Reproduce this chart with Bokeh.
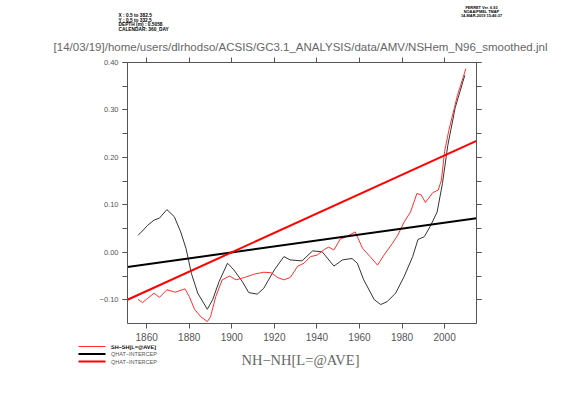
from bokeh.plotting import figure
from bokeh.layouts import column, row
from bokeh.models import (Range1d, LinearAxis, SingleIntervalTicker, FixedTicker,
                          CustomJSTickFormatter)
from bokeh.core.properties import value
from bokeh.embed import file_html
from bokeh.resources import INLINE

# ---- data ----
nh_years = [1856, 1858, 1860.5, 1863.5, 1866, 1869.5, 1873, 1876, 1878.5, 1881,
            1884, 1888.5, 1891, 1894, 1898, 1901, 1905, 1908, 1912, 1915,
            1920, 1924.5, 1927.5, 1933, 1938, 1942.5, 1948, 1952, 1956.5, 1959,
            1962, 1967, 1970, 1973, 1977, 1981, 1985, 1987.5, 1990.5, 1993.5,
            1996.5, 1999, 2001.5, 2005, 2009.5]
nh_vals = [0.036, 0.045, 0.057, 0.068, 0.072, 0.090, 0.075, 0.043, 0.008, -0.044,
           -0.086, -0.120, -0.100, -0.062, -0.023, -0.037, -0.062, -0.085, -0.088, -0.076,
           -0.037, -0.009, -0.016, -0.018, 0.003, 0.001, -0.029, -0.016, -0.013, -0.023,
           -0.058, -0.100, -0.110, -0.104, -0.086, -0.051, -0.009, 0.027, 0.033, 0.057,
           0.085, 0.145, 0.225, 0.305, 0.373]

sh_years = [1856, 1858, 1860.5, 1863.5, 1866, 1869.5, 1873.5, 1878, 1880, 1882.5,
            1885.5, 1888.5, 1890, 1892.5, 1895.5, 1899, 1902, 1906, 1910.5, 1915,
            1918.5, 1921.5, 1924.5, 1927.5, 1931, 1934, 1937, 1940, 1943.5, 1945.5,
            1948, 1951, 1954, 1958, 1961.5, 1965, 1968.5, 1971.5, 1975.5, 1978,
            1981, 1984, 1987, 1989, 1991, 1994.5, 1997, 1998.5, 2000, 2002,
            2006, 2010]
sh_vals = [-0.099, -0.106, -0.097, -0.086, -0.095, -0.079, -0.084, -0.077, -0.093, -0.120,
           -0.136, -0.146, -0.136, -0.093, -0.058, -0.050, -0.058, -0.053, -0.046, -0.042,
           -0.043, -0.053, -0.058, -0.053, -0.029, -0.023, -0.009, -0.006, 0.006, 0.011,
           0.005, 0.028, 0.033, 0.043, 0.008, -0.009, -0.027, -0.006, 0.019, 0.036,
           0.064, 0.085, 0.124, 0.121, 0.105, 0.126, 0.131, 0.152, 0.212, 0.257,
           0.330, 0.387]

fit_years = [1851, 2015]
nh_fit = [-0.031, 0.072]
sh_fit = [-0.100, 0.235]

x_ticks = [1860, 1880, 1900, 1920, 1940, 1960, 1980, 2000]

title_text = "[14/03/19]/home/users/dlrhodso/ACSIS/GC3.1_ANALYSIS/data/AMV/NSHem_N96_smoothed.jnl"
header_left = ["X : 0.5 to 382.5", "Y : 0.5 to 332.5", "DEPTH (m) : 0.5058", "CALENDAR: 360_DAY"]
header_right = ["FERRET Ver. 6.93", "NOAA/PMEL TMAP", "14-MAR-2019 15:46:37"]
legend_labels = ["SH\u2212SH[L=@AVE]", "QHAT\u2212INTERCEP", "QHAT\u2212INTERCEP"]
x_label = "NH\u2212NH[L=@AVE]"

W = 561
TOP_H = 54
MAIN_H = 291
BOT_H = 52


def blank(h):
    f = figure(width=W, height=h, output_backend="svg", toolbar_location=None,
               x_range=Range1d(0, W), y_range=Range1d(h, 0),
               x_axis_location=None, y_axis_location=None,
               min_border=0, min_border_left=0, min_border_right=0,
               min_border_top=0, min_border_bottom=0)
    f.grid.visible = False
    f.outline_line_color = None
    f.background_fill_color = "white"
    f.border_fill_color = "white"
    return f


# ---- header strip ----
top = blank(TOP_H)
top.text(x=[300], y=[46], text=[title_text], text_font=value("Liberation Sans"),
         text_font_size="11.5px", text_color="#666666", text_align="center",
         text_baseline="middle")
top.text(x=[118] * 4, y=[15, 19.7, 24.3, 29.3], text=header_left,
         text_font=value("Liberation Sans"), text_font_size="4.8px", text_font_style="bold",
         text_color="black", text_align="left", text_baseline="middle")
top.text(x=[481] * 3, y=[7, 10.8, 14.7], text=header_right,
         text_font=value("Liberation Sans"), text_font_size="3.9px", text_font_style="bold",
         text_color="black", text_align="center", text_baseline="middle")

# ---- main plot ----
p = figure(width=W, height=MAIN_H, output_backend="svg", toolbar_location=None,
           x_range=Range1d(1851, 2015), y_range=Range1d(-0.15, 0.40),
           x_axis_location=None, y_axis_location=None,
           min_border_left=127, min_border_right=85, min_border_top=8, min_border_bottom=22)
p.grid.visible = False
p.outline_line_color = None
p.background_fill_color = "white"
p.border_fill_color = "white"

AX = "#555555"
xt = FixedTicker(ticks=x_ticks)
yt = SingleIntervalTicker(interval=0.1, num_minor_ticks=2)
blank_fmt = CustomJSTickFormatter(code='return "";')


def style(ax):
    ax.axis_line_color = AX
    ax.major_tick_line_color = AX
    ax.minor_tick_line_color = AX
    ax.major_tick_in = 0
    ax.major_tick_out = 5
    ax.minor_tick_in = 0
    ax.minor_tick_out = 5
    return ax


xb = style(LinearAxis(ticker=xt))
xb.major_label_text_font = "Liberation Sans"
xb.major_label_text_font_size = "10px"
xb.major_label_text_color = "#555555"
xb.major_label_standoff = 4
p.add_layout(xb, "below")

xa = style(LinearAxis(ticker=xt, formatter=blank_fmt))
xa.major_label_standoff = 0
p.add_layout(xa, "above")

yl = style(LinearAxis(ticker=yt))
yl.formatter = CustomJSTickFormatter(code="""
if (Math.abs(tick) < 1e-9) { return "0.00"; }
return (tick < 0 ? "\\u2212" : "") + Math.abs(tick).toFixed(2);
""")
yl.major_label_text_font = "Liberation Sans"
yl.major_label_text_font_size = "7.5px"
yl.major_label_text_color = "#555555"
yl.major_label_standoff = 4
p.add_layout(yl, "left")

yr = style(LinearAxis(ticker=yt, formatter=blank_fmt))
yr.major_label_standoff = 0
p.add_layout(yr, "right")

p.line(nh_years, nh_vals, line_color="#333333", line_width=1)
p.line(sh_years, sh_vals, line_color="#ff3030", line_width=1)
p.line(fit_years, nh_fit, line_color="black", line_width=2)
p.line(fit_years, sh_fit, line_color="#ff0000", line_width=2)

# ---- bottom strip: axis title and legend ----
bot = blank(BOT_H)
y0 = TOP_H + MAIN_H  # page y of this strip's top
bot.text(x=[300], y=[359 - y0], text=[x_label], text_font=value("Liberation Serif"),
         text_font_size="14.5px", text_color="#666666", text_align="center",
         text_baseline="middle")
leg_y = [346 - y0, 353.5 - y0, 361 - y0]
bot.line([78, 105], [leg_y[0]] * 2, line_color="#ff3030", line_width=1)
bot.line([78, 105], [leg_y[1]] * 2, line_color="black", line_width=2)
bot.line([78, 105], [leg_y[2]] * 2, line_color="#ff0000", line_width=2)
bot.text(x=[110.5], y=[leg_y[0]], text=[legend_labels[0]], text_font=value("Liberation Sans"),
         text_font_size="5.5px", text_font_style="bold", text_color="black",
         text_align="left", text_baseline="middle")
bot.text(x=[110.5, 110.5], y=leg_y[1:], text=legend_labels[1:], text_font=value("Liberation Sans"),
         text_font_size="5.5px", text_color="#555555",
         text_align="left", text_baseline="middle")

layout = column(row(top), row(p), row(bot), spacing=0)
open("out.html", "w").write(file_html(layout, INLINE))
